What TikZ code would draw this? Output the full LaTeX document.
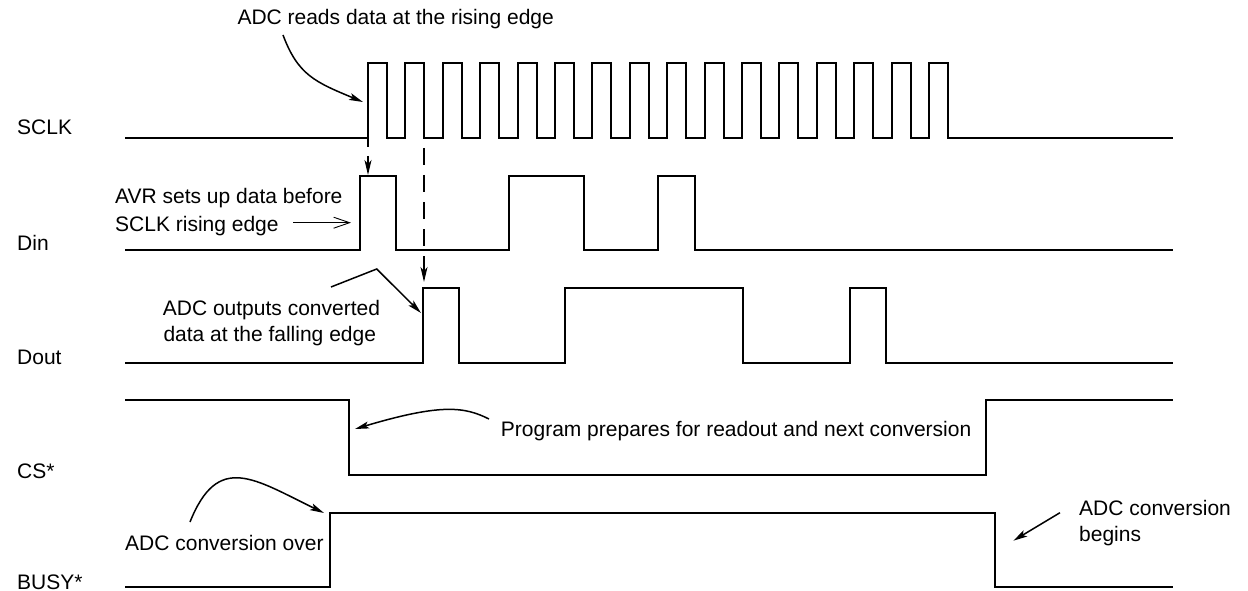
\documentclass[tikz,border=0pt]{standalone}
\usepackage{fontspec}
\setmainfont{Liberation Sans}
\usetikzlibrary{arrows.meta}
\begin{document}
\begin{tikzpicture}[x=1pt,y=-1pt,
  wave/.style={line width=2pt, line join=miter},
  note/.style={line width=1.5pt,-{Stealth[length=14pt,width=7pt,inset=3pt]}},
  vnote/.style={line width=1.5pt,-{Stealth[length=15pt,width=7pt,inset=4pt]}},
  thinnote/.style={line width=0.9pt,-{Straight Barb[length=16pt,width=11pt]}},
  lbl/.style={anchor=base west, inner sep=0pt, font=\fontsize{21}{26.7}\selectfont},
]
\useasboundingbox (0,0) rectangle (1248,591);

% signal names
\node[lbl] (sclk) at (17,135) {SCLK};
\node[lbl] (din)  at (17,250) {Din};
\node[lbl] (dout) at (17,364) {Dout};
\node[lbl] (cs)   at (17,478) {CS*};
\node[lbl] (busy) at (17,589) {BUSY*};

% waveforms
\draw[wave] (125,138) foreach \i in {0,...,15} {
   -- ({368+37.4*\i},138) -- ({368+37.4*\i},63) -- ({387+37.4*\i},63) -- ({387+37.4*\i},138) }
   -- (1173,138);
\draw[wave] (125,250) -| (359.5,176) -| (396,250) -| (508.5,176) -| (583.5,250)
   -| (657.7,176) -| (695,250) -- (1173,250);
\draw[wave] (125,362.7) -| (422.7,288.3) -| (458.7,362.7) -| (565.3,288.3) -| (743.3,362.7)
   -| (850,288.3) -| (885.7,362.7) -- (1173,362.7);
\draw[wave] (125,400) -| (349,475) -| (985.7,400) -- (1173,400);
\draw[wave] (125,587.3) -| (330.3,512.7) -| (995,587.3) -- (1173,587.3);

% annotations
\node[lbl] (t1) at (237.3,25) {ADC reads data at the rising edge};
\coordinate (t1s) at (283,35);
\coordinate (t1e) at (363,102);
\draw[note] (t1s) .. controls (298,75) and (315,82) .. (t1e);

\coordinate (r1a) at (368,138);
\coordinate (r1b) at (368,175);
\draw[vnote, dash pattern=on 9pt off 9pt] (r1a) -- (r1b);
\coordinate (f1a) at (424,148);
\coordinate (f1b) at (424,282);
\draw[vnote, dash pattern=on 17pt off 10pt] (f1a) -- (f1b);

\node[lbl] (t2a) at (115,204) {AVR sets up data before};
\node[lbl] (t2b) at (115,231) {SCLK rising edge};
\coordinate (t2s) at (293,222.7);
\coordinate (t2e) at (351,222.7);
\draw[thinnote] (t2s) -- (t2e);

\node[lbl] (t3a) at (162.7,315) {ADC outputs converted};
\node[lbl] (t3b) at (163.3,341.7) {data at the falling edge};
\coordinate (t3s) at (331,287);
\coordinate (t3m) at (376.7,269);
\coordinate (t3e) at (421,313);
\draw[note] (t3s) -- (t3m) -- (t3e);

\node[lbl] (t4) at (500.7,436.7) {Program prepares for readout and next conversion};
\coordinate (t4s) at (489,419);
\coordinate (t4e) at (355,429);
\draw[note] (t4s) .. controls (465,407) and (442,403) .. (t4e);

\node[lbl] (t5) at (125,550) {ADC conversion over};
\coordinate (t5s) at (190,522);
\coordinate (t5e) at (324,513);
\draw[note] (t5s) .. controls (218,452) and (254,479) .. (t5e);

\node[lbl] (t6a) at (1079,515) {ADC conversion};
\node[lbl] (t6b) at (1079,541.7) {begins};
\coordinate (t6s) at (1060,512.7);
\coordinate (t6e) at (1013.3,540.7);
\draw[note] (t6s) -- (t6e);
\end{tikzpicture}
\end{document}
